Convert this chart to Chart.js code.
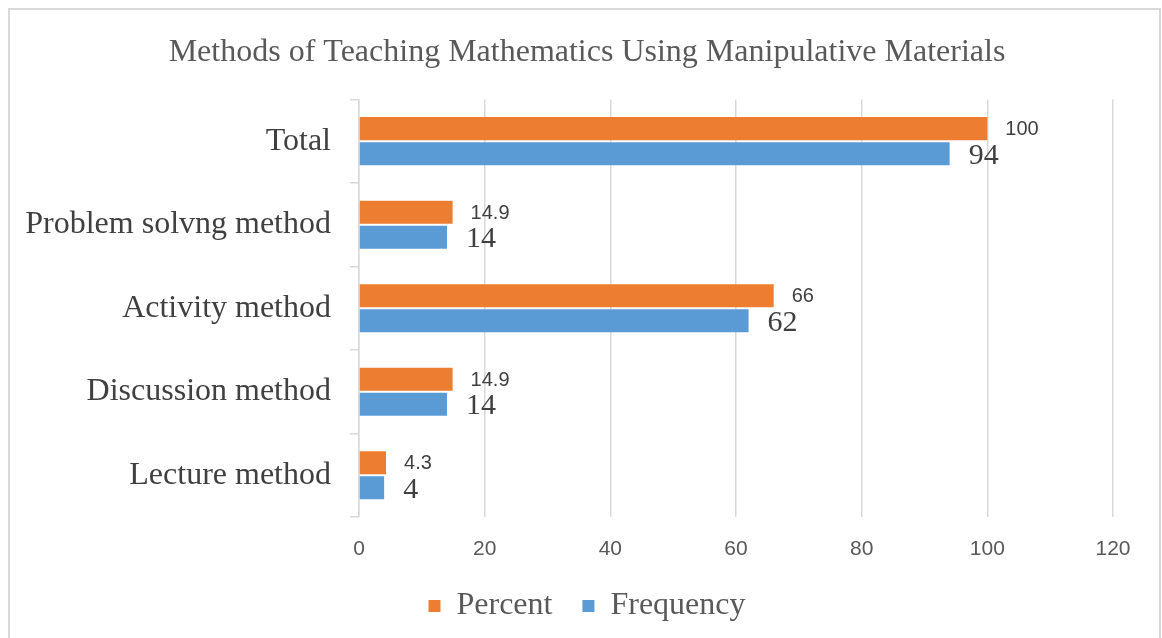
<!DOCTYPE html>
<html>
<head>
<meta charset="utf-8">
<script src="https://cdn.jsdelivr.net/npm/chart.js@4/dist/chart.umd.min.js"></script>
<style>
html,body{margin:0;padding:0;background:#fff;}
canvas{display:block;}
</style>
</head>
<body>
<canvas id="c" width="1162" height="638"></canvas>
<script>
const titleText = "Methods of Teaching Mathematics Using Manipulative Materials";
const categories = ["Total", "Problem solvng method", "Activity method", "Discussion method", "Lecture method"];
const percentValues = [100, 14.9, 66, 14.9, 4.3];
const frequencyValues = [94, 14, 62, 14, 4];
const xTicks = [0, 20, 40, 60, 80, 100, 120];

const SERIF = "'Liberation Serif', 'Times New Roman', serif";
const SANS = "'Liberation Sans', Arial, sans-serif";

const borderPlugin = {
  id: 'frame',
  beforeDraw(chart) {
    const ctx = chart.ctx;
    ctx.save();
    ctx.fillStyle = '#fff';
    ctx.fillRect(0, 0, chart.width, chart.height);
    ctx.strokeStyle = '#d9d9d9';
    ctx.lineWidth = 2;
    ctx.strokeRect(9, 9, 1151, 660);
    ctx.restore();
  }
};

const labelPlugin = {
  id: 'barLabels',
  afterDatasetsDraw(chart) {
    const ctx = chart.ctx;
    ctx.save();
    ctx.fillStyle = '#404040';
    ctx.textBaseline = 'middle';
    ctx.textAlign = 'left';
    chart.data.datasets.forEach((ds, di) => {
      const meta = chart.getDatasetMeta(di);
      meta.data.forEach((el, i) => {
        const v = ds.data[i];
        if (di === 0) {
          ctx.font = "20px " + SANS;
          ctx.fillText(String(v), el.x + 18, el.y + 1);
        } else {
          ctx.font = "30px " + SERIF;
          ctx.fillText(String(v), el.x + 19, el.y + 2);
        }
      });
    });
    ctx.restore();
  }
};

new Chart(document.getElementById('c'), {
  type: 'bar',
  data: {
    labels: categories,
    datasets: [
      { label: 'Percent', data: percentValues, backgroundColor: '#ED7D31', borderWidth: 0,
        categoryPercentage: 0.6, barPercentage: 0.92 },
      { label: 'Frequency', data: frequencyValues, backgroundColor: '#5B9BD5', borderWidth: 0,
        categoryPercentage: 0.6, barPercentage: 0.92 }
    ]
  },
  options: {
    indexAxis: 'y',
    responsive: false,
    animation: false,
    layout: { padding: { left: 12, right: 0, top: 0, bottom: 6 } },
    plugins: {
      title: {
        display: true, text: titleText, color: '#595959',
        font: { family: SERIF, size: 32, weight: 'normal' },
        padding: { top: 33, bottom: 28 }
      },
      legend: {
        display: true, position: 'bottom',
        labels: {
          color: '#595959', font: { family: SERIF, size: 32 },
          boxWidth: 12, boxHeight: 12, padding: 30
        }
      },
      tooltip: { enabled: false }
    },
    scales: {
      x: {
        min: 0, max: 120,
        afterBuildTicks(scale) { scale.ticks = xTicks.map(v => ({ value: v })); },
        afterFit(scale) { scale.height = 43; },
        ticks: { color: '#595959', font: { family: SANS, size: 21 }, padding: 20 },
        grid: { color: '#d9d9d9', lineWidth: 1.5, drawTicks: false },
        border: { display: false }
      },
      y: {
        afterFit(scale) { scale.width = 347; },
        ticks: { color: '#404040', font: { family: SERIF, size: 32 }, padding: 19 },
        grid: { offset: true, drawOnChartArea: false, drawTicks: true, tickLength: 9, color: '#d9d9d9', lineWidth: 1.5 },
        border: { display: true, color: '#d9d9d9', width: 1.5 }
      },
      spacer: {
        type: 'category', axis: 'y', position: 'right', labels: categories,
        afterFit(scale) { scale.width = 49; },
        ticks: { display: false },
        grid: { display: false, drawTicks: false },
        border: { display: false }
      }
    }
  },
  plugins: [borderPlugin, labelPlugin]
});
</script>
</body>
</html>
